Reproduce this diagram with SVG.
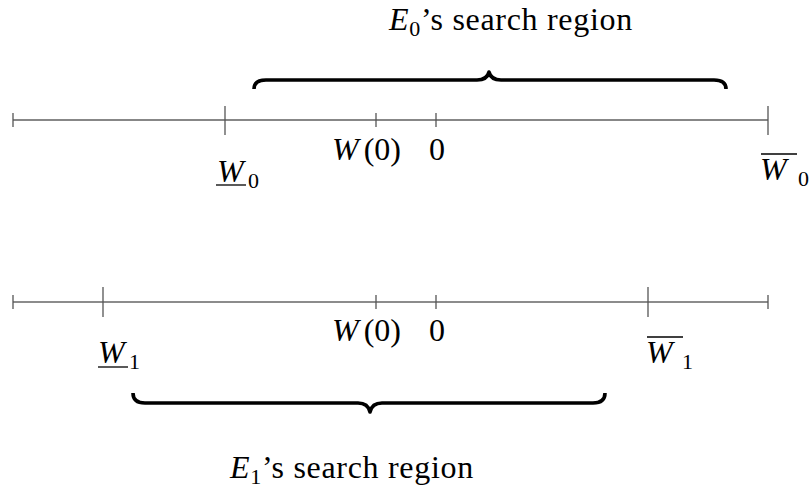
<svg xmlns="http://www.w3.org/2000/svg" width="811" height="490" viewBox="0 0 811 490">
<style>
text, tspan{font-family:'Liberation Serif','Times New Roman',serif !important}
.lt{font-size:32px;fill:#000}
.sub{font-size:22px}
.it{font-style:italic}
.axis{stroke:#111;stroke-width:1.2;fill:none}
.axis2{stroke:#666;stroke-width:1.6;fill:none}
.tick{stroke:#555;stroke-width:1.3}
.brace{fill:none;stroke:#000;stroke-width:3.6;stroke-linejoin:round}
.bar{stroke:#000;stroke-width:1.3}
</style>
<rect width="811" height="490" fill="#fff"/>
<g id="connectors">
<line class="axis" x1="13" y1="120" x2="768" y2="120"/>
<line class="axis2" x1="13" y1="302" x2="768" y2="302"/>
</g>
<g id="top-axis-ticks">
<line class="tick" x1="13" y1="113" x2="13" y2="127"/>
<line class="tick" x1="225" y1="106" x2="225" y2="135"/>
<line class="tick" x1="376" y1="113" x2="376" y2="127"/>
<line class="tick" x1="436" y1="113" x2="436" y2="127"/>
<line class="tick" x1="768" y1="106" x2="768" y2="135"/>
</g>
<g id="bottom-axis-ticks">
<line class="tick" x1="13" y1="295" x2="13" y2="309"/>
<line class="tick" x1="103" y1="287" x2="103" y2="317"/>
<line class="tick" x1="376" y1="295" x2="376" y2="309"/>
<line class="tick" x1="436" y1="295" x2="436" y2="309"/>
<line class="tick" x1="648" y1="287" x2="648" y2="317"/>
<line class="tick" x1="768" y1="295" x2="768" y2="309"/>
</g>
<g id="top-brace">
<path class="brace" d="M254,89 Q254,80 266,80 L477,80 Q487,80 489,72 Q491,80 501,80 L714,80 Q726,80 726,89"/>
</g>
<g id="bottom-brace">
<path class="brace" d="M133,393 Q133,403 145,403 L358,403 Q368,403 370,412 Q372,403 382,403 L593,403 Q605,403 605,393"/>
</g>
<g id="top-title">
<text style="font-family:'Liberation Serif',serif" font-family="Liberation Serif" class="lt" x="389" y="30" letter-spacing="0.7"><tspan class="it">E</tspan><tspan class="sub" dy="6">0</tspan><tspan dy="-6">’s search region</tspan></text>
</g>
<g id="top-labels">
<text style="font-family:'Liberation Serif',serif" font-family="Liberation Serif" class="lt" x="332" y="160"><tspan class="it">W</tspan><tspan dx="5">(0)</tspan></text>
<text style="font-family:'Liberation Serif',serif" font-family="Liberation Serif" class="lt" x="429" y="160">0</text>
<text style="font-family:'Liberation Serif',serif" font-family="Liberation Serif" class="lt it" x="217" y="182">W</text>
<line class="bar" x1="216" y1="185" x2="246" y2="185"/>
<text style="font-family:'Liberation Serif',serif" font-family="Liberation Serif" class="lt sub" x="248" y="188">0</text>
<text style="font-family:'Liberation Serif',serif" font-family="Liberation Serif" class="lt it" x="760" y="180">W</text>
<line class="bar" x1="761" y1="154" x2="797" y2="154"/>
<text style="font-family:'Liberation Serif',serif" font-family="Liberation Serif" class="lt sub" x="798" y="186">0</text>
</g>
<g id="bottom-labels">
<text style="font-family:'Liberation Serif',serif" font-family="Liberation Serif" class="lt" x="332" y="341"><tspan class="it">W</tspan><tspan dx="5">(0)</tspan></text>
<text style="font-family:'Liberation Serif',serif" font-family="Liberation Serif" class="lt" x="429" y="341">0</text>
<text style="font-family:'Liberation Serif',serif" font-family="Liberation Serif" class="lt it" x="98" y="363">W</text>
<line class="bar" x1="98" y1="367" x2="128" y2="367"/>
<text style="font-family:'Liberation Serif',serif" font-family="Liberation Serif" class="lt sub" x="129" y="369">1</text>
<text style="font-family:'Liberation Serif',serif" font-family="Liberation Serif" class="lt it" x="646" y="363">W</text>
<line class="bar" x1="647" y1="337" x2="683" y2="337"/>
<text style="font-family:'Liberation Serif',serif" font-family="Liberation Serif" class="lt sub" x="682" y="369">1</text>
</g>
<g id="bottom-title">
<text style="font-family:'Liberation Serif',serif" font-family="Liberation Serif" class="lt" x="230" y="478" letter-spacing="0.7"><tspan class="it">E</tspan><tspan class="sub" dy="6">1</tspan><tspan dy="-6">’s search region</tspan></text>
</g>
</svg>
